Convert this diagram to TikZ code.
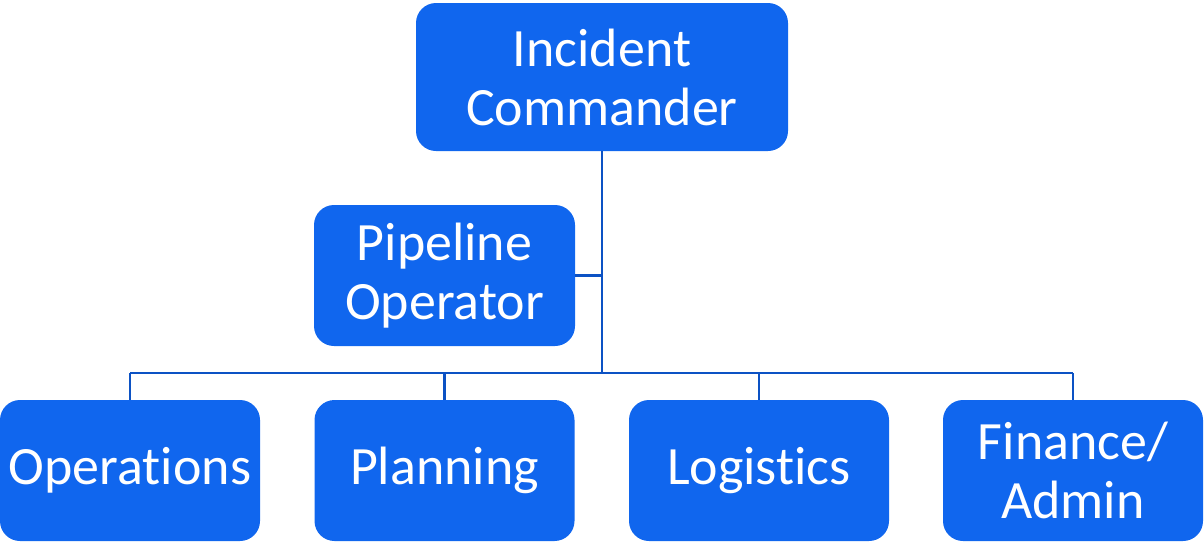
\documentclass[tikz,border=0pt]{standalone}
\usepackage{fontspec}
\setmainfont[Ligatures=NoCommon]{Carlito}
\usetikzlibrary{positioning}
\definecolor{boxblue}{RGB}{16,102,238}
\definecolor{lineblue}{RGB}{12,82,196}
\tikzset{
  role/.style={fill=boxblue, rounded corners=0.4cm, text=white, align=center,
    minimum width=5.2cm, minimum height=2.82cm, inner sep=0pt,
    font=\fontsize{30.7}{33.6}\selectfont},
  link/.style={draw=lineblue, line width=1.5pt}
}

\begin{document}
\begin{tikzpicture}
    \useasboundingbox (0, 0) rectangle (24.08, -10.82);
    \node[role, minimum width=7.44cm, minimum height=2.96cm] (ic) at (12.04, -1.54)
    {Incident\\Commander};
    \node[role, minimum width=5.22cm] (po) at (8.89, -5.51) {Pipeline\\Operator};
    \node[role] (ops) at (2.6, -9.41) {Operations};
    \node[role] (plan) at (8.89, -9.41) {Planning};
    \node[role] (log) at (15.18, -9.41) {Logistics};
    \node[role] (fin) at (21.46, -9.41) {Finance/\\Admin};
    \coordinate (hub) at (ic.south |- 0, -7.46);
    \draw[link] (ic.south) -- (hub);
    \draw[link] (po.east) -- (po.east -| hub);
    \draw[link] (ops.north |- hub) -- (fin.north |- hub);
    \foreach \n in {ops, plan, log, fin}
    \draw[link] (\n.north) -- (\n.north |- hub);
  \end{tikzpicture}
\end{document}
